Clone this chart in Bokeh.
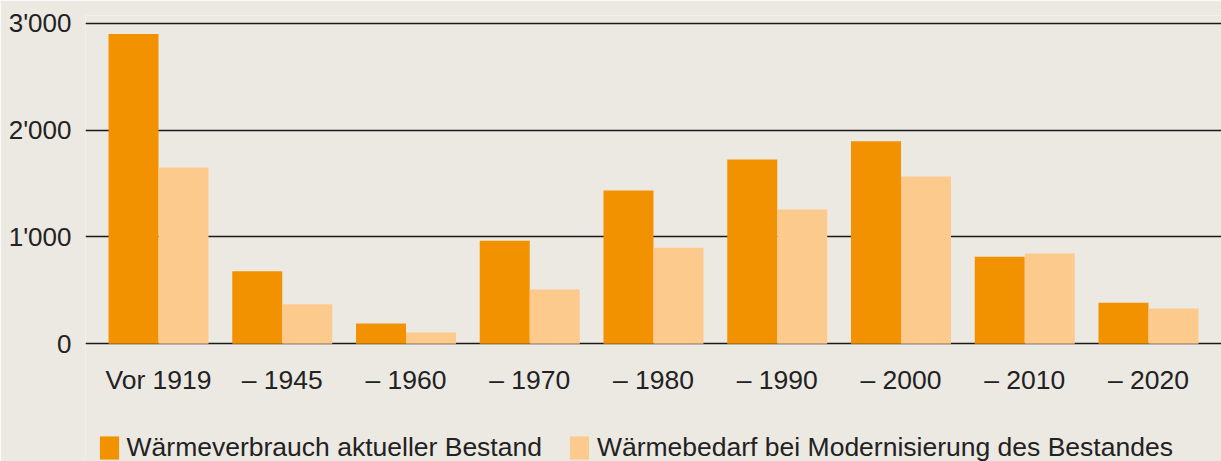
from bokeh.plotting import figure
from bokeh.models import FactorRange, Range1d, FixedTicker, ColumnDataSource, Legend, LegendItem
from bokeh.transform import dodge
from bokeh.embed import file_html
from bokeh.resources import INLINE

categories = ["Vor 1919", "– 1945", "– 1960", "– 1970", "– 1980", "– 1990", "– 2000", "– 2010", "– 2020"]
verbrauch = [2900, 680, 190, 965, 1435, 1725, 1895, 815, 385]
bedarf = [1650, 370, 105, 508, 900, 1257, 1565, 845, 330]
y_ticks = [0, 1000, 2000, 3000]
y_tick_labels = ["0", "1'000", "2'000", "3'000"]
series_names = ["Wärmeverbrauch aktueller Bestand", "Wärmebedarf bei Modernisierung des Bestandes"]
colors = ["#F39200", "#FDCA8E"]

BG = "#ECE9E2"
TXT = "#222222"
FONT = "Liberation Sans"

source = ColumnDataSource(dict(cat=categories, verbrauch=verbrauch, bedarf=bedarf))

x_range = FactorRange(factors=categories, range_padding=0.09, range_padding_units="absolute")
p = figure(x_range=x_range, y_range=Range1d(-1101, 3072.5),
           frame_width=1136, frame_height=446,
           min_border_left=85, min_border_right=0, min_border_top=15, min_border_bottom=0,
           output_backend="svg", toolbar_location=None,
           background_fill_color=BG, border_fill_color=BG, outline_line_color=None)

bw = 0.404
r1 = p.vbar(x=dodge("cat", -bw / 2, range=p.x_range), top="verbrauch", width=bw, bottom=0,
            source=source, fill_color=colors[0], line_color=None)
r2 = p.vbar(x=dodge("cat", bw / 2, range=p.x_range), top="bedarf", width=bw, bottom=0,
            source=source, fill_color=colors[1], line_color=None)

# x axis sits on the zero line, the legend goes beneath it
p.xaxis.fixed_location = 0
p.xaxis.axis_line_color = None
p.xaxis.major_tick_line_color = None
p.xaxis.minor_tick_line_color = None
p.xaxis.major_label_text_font = FONT
p.xaxis.major_label_text_font_size = "26.5px"
p.xaxis.major_label_text_color = TXT
p.xaxis.major_label_standoff = 15

p.yaxis.ticker = FixedTicker(ticks=y_ticks)
p.yaxis.major_label_overrides = {t: l for t, l in zip(y_ticks, y_tick_labels)}
p.yaxis.axis_line_color = None
p.yaxis.major_tick_line_color = None
p.yaxis.minor_tick_line_color = None
p.yaxis.major_label_text_font = FONT
p.yaxis.major_label_text_font_size = "26px"
p.yaxis.major_label_text_color = TXT
p.yaxis.major_label_standoff = 8

p.xgrid.grid_line_color = None
p.ygrid.ticker = FixedTicker(ticks=y_ticks)
p.ygrid.grid_line_color = "#1a1a1a"
p.ygrid.grid_line_width = 1.4

legend = Legend(items=[LegendItem(label=series_names[0], renderers=[r1]),
                       LegendItem(label=series_names[1], renderers=[r2])],
                location=(11.6, -2), orientation="horizontal",
                glyph_width=24, glyph_height=29, label_standoff=6, spacing=25,
                padding=0, margin=0, border_line_color=None, background_fill_alpha=0,
                label_text_font=FONT, label_text_font_size="26.5px", label_text_color=TXT)
p.add_layout(legend, "center")

open("out.html", "w").write(file_html(p, INLINE))
